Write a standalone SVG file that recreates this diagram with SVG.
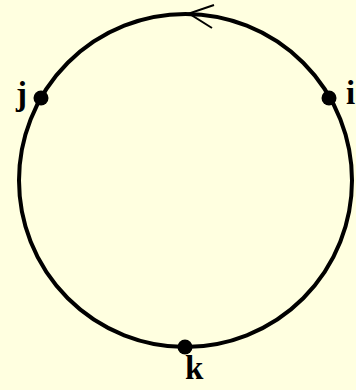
<svg xmlns="http://www.w3.org/2000/svg" width="356" height="390" viewBox="0 0 356 390">
<style>
.lbl{font-family:"Liberation Serif","Times New Roman",serif;font-weight:bold;font-size:33px;fill:#000}
.dot{fill:#000}
</style>
<rect width="356" height="390" fill="#ffffe0"/>
<g id="connectors">
<circle cx="185.5" cy="180.5" r="166.5" fill="none" stroke="#000" stroke-width="4"/>
<path d="M214 5 L189 13.5 L212 28" fill="none" stroke="#000" stroke-width="2"/>
</g>
<g id="node-j"><circle class="dot" cx="41" cy="98" r="7.5"/><text class="lbl" x="16" y="105">j</text></g>
<g id="node-i"><circle class="dot" cx="329" cy="98" r="7.5"/><text class="lbl" x="346" y="104">i</text></g>
<g id="node-k"><circle class="dot" cx="185" cy="347" r="7.5"/><text class="lbl" x="185" y="379">k</text></g>
</svg>
